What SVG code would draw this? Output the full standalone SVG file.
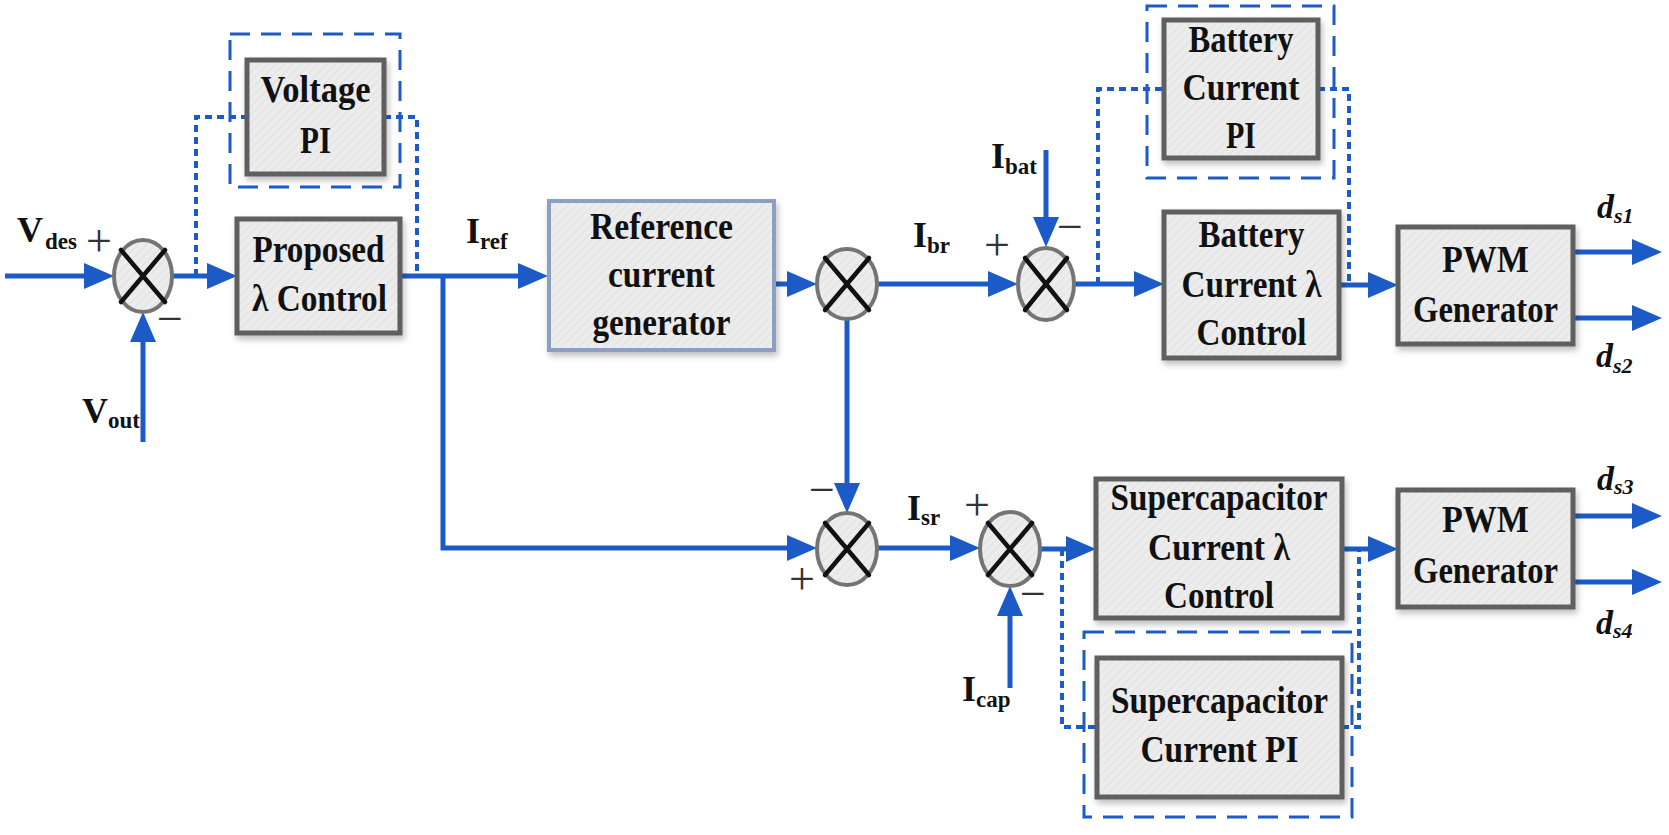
<svg xmlns="http://www.w3.org/2000/svg" width="1669" height="835" viewBox="0 0 1669 835">
<style>
.bx{fill:url(#hatch);stroke:#5e5e5e;stroke-width:5;filter:url(#sh)}
.bxr{fill:url(#hatch);stroke:#8c9fc2;stroke-width:4;filter:url(#sh)}
.sum{fill:url(#hatch);stroke:#747474;stroke-width:4}
.x{stroke:#111;stroke-width:4.5;stroke-linecap:round}
.ln{fill:none;stroke:#1c5bc7;stroke-width:5}
.ar{marker-end:url(#ah)}
.dot{fill:none;stroke:#1c5bc7;stroke-width:4;stroke-dasharray:7 5}
.dash{fill:none;stroke:#1c5bc7;stroke-width:3;stroke-dasharray:20 11}
.t{font-family:"Liberation Serif","Times New Roman",serif;font-weight:bold;font-size:37px;fill:#111;text-anchor:middle}
.lb{font-family:"Liberation Serif","Times New Roman",serif;font-weight:bold;font-size:36px;fill:#111}
.sb{font-size:23px}
.d{font-family:"Liberation Serif","Times New Roman",serif;font-weight:bold;font-style:italic;font-size:34px;fill:#111}
.ds{font-size:22px}
.pm{font-family:"Liberation Serif","Times New Roman",serif;font-size:46px;fill:#333;text-anchor:middle}
</style>
<defs>
<pattern id="hatch" width="6" height="6" patternUnits="userSpaceOnUse" patternTransform="rotate(45)">
<rect width="6" height="6" fill="#ececec"/>
<line x1="0" y1="0" x2="0" y2="6" stroke="#dedede" stroke-width="1.5"/>
</pattern>
<filter id="sh" x="-10%" y="-10%" width="125%" height="130%">
<feDropShadow dx="2" dy="4" stdDeviation="3" flood-color="#000" flood-opacity="0.25"/>
</filter>
<marker id="ah" markerUnits="userSpaceOnUse" markerWidth="30" markerHeight="26" refX="22" refY="13" orient="auto">
<path d="M0,0 L30,13 L0,26 Z" fill="#1c5bc7"/>
</marker>
</defs>
<rect width="1669" height="835" fill="#fff"/>

<g id="connectors">
<line class="ln ar" x1="5" y1="276" x2="106" y2="276"/>
<line class="ln ar" x1="172" y1="276" x2="229" y2="276"/>
<line class="ln ar" x1="143" y1="442" x2="143" y2="320"/>
<line class="ln ar" x1="400" y1="276" x2="540" y2="276"/>
<polyline class="ln ar" points="443,276 443,548 809,548"/>
<line class="ln ar" x1="774" y1="284" x2="809" y2="284"/>
<line class="ln ar" x1="847" y1="319" x2="847" y2="505"/>
<line class="ln ar" x1="877" y1="284" x2="1010" y2="284"/>
<line class="ln ar" x1="1046" y1="150" x2="1046" y2="239"/>
<line class="ln ar" x1="1074" y1="284" x2="1156" y2="284"/>
<line class="ln ar" x1="1339" y1="285" x2="1390" y2="285"/>
<line class="ln ar" x1="1573" y1="252" x2="1654" y2="252"/>
<line class="ln ar" x1="1573" y1="318" x2="1654" y2="318"/>
<line class="ln ar" x1="877" y1="548" x2="972" y2="548"/>
<line class="ln ar" x1="1010" y1="688" x2="1010" y2="594"/>
<line class="ln ar" x1="1040" y1="549" x2="1088" y2="549"/>
<line class="ln ar" x1="1342" y1="549" x2="1390" y2="549"/>
<line class="ln ar" x1="1573" y1="516" x2="1654" y2="516"/>
<line class="ln ar" x1="1573" y1="582" x2="1654" y2="582"/>
<polyline class="dot" points="196,276 196,117 247,117"/>
<polyline class="dot" points="384,117 417,117 417,276"/>
<polyline class="dot" points="1098,284 1098,89 1164,89"/>
<polyline class="dot" points="1318,89 1349,89 1349,285"/>
<polyline class="dot" points="1062,549 1062,727 1097,727"/>
<polyline class="dot" points="1342,727 1359,727 1359,549"/>
</g>

<g id="voltage-pi">
<rect class="dash" x="230" y="34" width="170" height="153"/>
<rect class="bx" x="247" y="60" width="137" height="114"/>
<text class="t" x="315.5" y="102" textLength="110" lengthAdjust="spacingAndGlyphs">Voltage</text>
<text class="t" x="315.5" y="153" textLength="31" lengthAdjust="spacingAndGlyphs">PI</text>
</g>

<g id="proposed">
<rect class="bx" x="237" y="219" width="163" height="114"/>
<text class="t" x="318.5" y="262" textLength="132" lengthAdjust="spacingAndGlyphs">Proposed</text>
<text class="t" x="319.5" y="311" textLength="135" lengthAdjust="spacingAndGlyphs">λ Control</text>
</g>

<g id="reference">
<rect class="bxr" x="549" y="201" width="225" height="149"/>
<text class="t" x="661.5" y="239" textLength="143" lengthAdjust="spacingAndGlyphs">Reference</text>
<text class="t" x="661.5" y="287" textLength="107" lengthAdjust="spacingAndGlyphs">current</text>
<text class="t" x="661.5" y="335" textLength="138" lengthAdjust="spacingAndGlyphs">generator</text>
</g>

<g id="battery-pi">
<rect class="dash" x="1147" y="6" width="187" height="172"/>
<rect class="bx" x="1164" y="20" width="154" height="138"/>
<text class="t" x="1241" y="52" textLength="105" lengthAdjust="spacingAndGlyphs">Battery</text>
<text class="t" x="1241" y="100" textLength="117" lengthAdjust="spacingAndGlyphs">Current</text>
<text class="t" x="1241" y="148" textLength="30" lengthAdjust="spacingAndGlyphs">PI</text>
</g>

<g id="battery-lambda">
<rect class="bx" x="1164" y="212" width="175" height="146"/>
<text class="t" x="1251.5" y="247" textLength="106" lengthAdjust="spacingAndGlyphs">Battery</text>
<text class="t" x="1251.5" y="297" textLength="140" lengthAdjust="spacingAndGlyphs">Current λ</text>
<text class="t" x="1251.5" y="345" textLength="110" lengthAdjust="spacingAndGlyphs">Control</text>
</g>

<g id="pwm1">
<rect class="bx" x="1398" y="227" width="175" height="117"/>
<text class="t" x="1485.5" y="272" textLength="87" lengthAdjust="spacingAndGlyphs">PWM</text>
<text class="t" x="1485.5" y="322" textLength="145" lengthAdjust="spacingAndGlyphs">Generator</text>
</g>

<g id="sc-lambda">
<rect class="bx" x="1096" y="479" width="246" height="139"/>
<text class="t" x="1219" y="510" textLength="217" lengthAdjust="spacingAndGlyphs">Supercapacitor</text>
<text class="t" x="1219" y="560" textLength="142" lengthAdjust="spacingAndGlyphs">Current λ</text>
<text class="t" x="1219" y="608" textLength="110" lengthAdjust="spacingAndGlyphs">Control</text>
</g>

<g id="sc-pi">
<rect class="dash" x="1084" y="632" width="268" height="185"/>
<rect class="bx" x="1097" y="658" width="245" height="139"/>
<text class="t" x="1219.5" y="713" textLength="217" lengthAdjust="spacingAndGlyphs">Supercapacitor</text>
<text class="t" x="1219.5" y="762" textLength="158" lengthAdjust="spacingAndGlyphs">Current PI</text>
</g>

<g id="pwm2">
<rect class="bx" x="1398" y="490" width="175" height="117"/>
<text class="t" x="1485.5" y="532" textLength="87" lengthAdjust="spacingAndGlyphs">PWM</text>
<text class="t" x="1485.5" y="583" textLength="145" lengthAdjust="spacingAndGlyphs">Generator</text>
</g>

<g id="sum1">
<ellipse class="sum" cx="143" cy="276" rx="29" ry="36"/>
<line class="x" x1="121" y1="250" x2="165" y2="302"/>
<line class="x" x1="165" y1="250" x2="121" y2="302"/>
<text class="pm" x="99" y="256">+</text>
<text class="pm" x="170" y="334">−</text>
</g>

<g id="sum2">
<ellipse class="sum" cx="847" cy="284" rx="30" ry="35"/>
<line class="x" x1="825" y1="258" x2="869" y2="310"/>
<line class="x" x1="869" y1="258" x2="825" y2="310"/>
</g>

<g id="sum3">
<ellipse class="sum" cx="847" cy="549" rx="30" ry="36"/>
<line class="x" x1="825" y1="523" x2="869" y2="575"/>
<line class="x" x1="869" y1="523" x2="825" y2="575"/>
<text class="pm" x="822" y="505">−</text>
<text class="pm" x="802" y="594">+</text>
</g>

<g id="sum4">
<ellipse class="sum" cx="1046" cy="284" rx="28" ry="36"/>
<line class="x" x1="1025" y1="258" x2="1067" y2="310"/>
<line class="x" x1="1067" y1="258" x2="1025" y2="310"/>
<text class="pm" x="997" y="260">+</text>
<text class="pm" x="1070" y="242">−</text>
</g>

<g id="sum5">
<ellipse class="sum" cx="1010" cy="549" rx="30" ry="37"/>
<line class="x" x1="988" y1="523" x2="1032" y2="575"/>
<line class="x" x1="1032" y1="523" x2="988" y2="575"/>
<text class="pm" x="977" y="520">+</text>
<text class="pm" x="1033" y="609">−</text>
</g>

<g id="labels">
<text class="lb" x="17" y="242">V<tspan class="sb" dx="2" dy="7">des</tspan></text>
<text class="lb" x="82" y="423">V<tspan class="sb" dy="5">out</tspan></text>
<text class="lb" x="466" y="243">I<tspan class="sb" dy="6">ref</tspan></text>
<text class="lb" x="913" y="247">I<tspan class="sb" dy="6">br</tspan></text>
<text class="lb" x="907" y="520">I<tspan class="sb" dy="5">sr</tspan></text>
<text class="lb" x="991" y="168">I<tspan class="sb" dy="6">bat</tspan></text>
<text class="lb" x="962" y="701">I<tspan class="sb" dy="6">cap</tspan></text>
<text class="d" x="1597" y="218">d<tspan class="ds" dy="5">s1</tspan></text>
<text class="d" x="1596" y="367">d<tspan class="ds" dy="6">s2</tspan></text>
<text class="d" x="1597" y="490">d<tspan class="ds" dy="4">s3</tspan></text>
<text class="d" x="1596" y="634">d<tspan class="ds" dy="4">s4</tspan></text>
</g>
</svg>
